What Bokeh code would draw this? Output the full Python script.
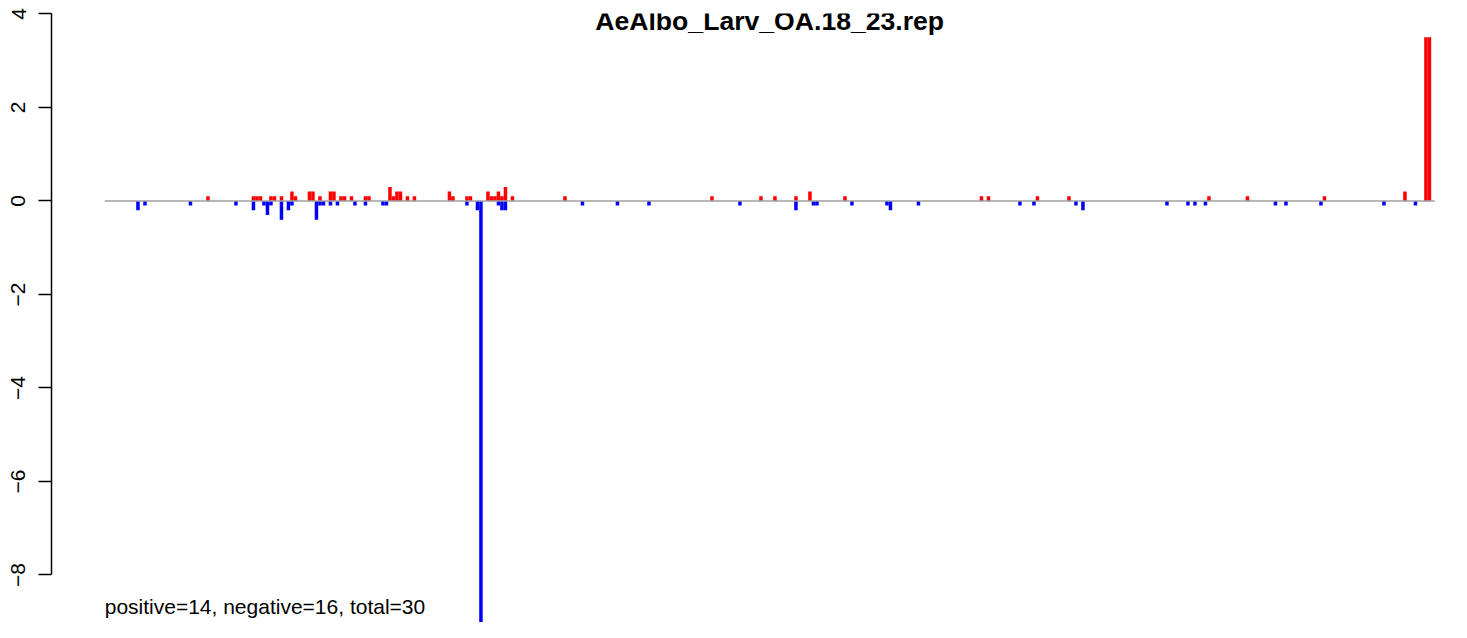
from bokeh.plotting import figure
from bokeh.models import Range1d, Label, FixedTicker
from bokeh.embed import file_html
from bokeh.resources import INLINE

# ---------------- data ----------------
title_text = "AeAlbo_Larv_OA.18_23.rep"
summary_text = "positive=14, negative=16, total=30"
n_slots = 380

pos_idx = [29, 42, 43, 44, 47, 48, 50, 53, 54, 58, 59, 61, 64, 65, 67, 68, 70, 74, 75,
           81, 82, 83, 84, 86, 88, 98, 99, 103, 104, 109, 110, 111, 112, 113, 114, 116,
           131, 173, 187, 191, 197, 201, 211, 250, 252, 266, 275, 315, 326, 348, 371,
           377, 378]
pos_val = [0.1, 0.1, 0.1, 0.1, 0.1, 0.1, 0.1,
           0.2, 0.1, 0.2, 0.2, 0.1, 0.2, 0.2, 0.1, 0.1, 0.1, 0.1, 0.1, 0.3, 0.1, 0.2,
           0.2, 0.1, 0.1, 0.2, 0.1, 0.1, 0.1, 0.2, 0.1, 0.1, 0.2, 0.1, 0.3, 0.1, 0.1,
           0.1, 0.1, 0.1, 0.1, 0.2,
           0.1,
           0.1, 0.1, 0.1, 0.1, 0.1, 0.1, 0.1,
           0.2, 3.5, 3.5]

neg_idx = [9, 11, 24, 37, 42, 45, 46, 47, 50, 52, 53, 60, 61, 62, 64, 66, 71, 74, 79, 80,
           103, 106, 107, 112, 113, 114, 136, 146, 155, 181, 197, 202, 203, 213, 223,
           224, 232, 261, 265, 277, 279, 303, 309, 311, 314, 334, 337, 347, 365, 374]
neg_val = [-0.2, -0.1, -0.1, -0.1, -0.2, -0.1, -0.3, -0.1, -0.4, -0.2,
           -0.1, -0.4, -0.1, -0.1, -0.1, -0.1, -0.1, -0.1, -0.1, -0.1,
           -0.1, -0.2, -9.24, -0.1, -0.2, -0.2, -0.1, -0.1, -0.1, -0.1,
           -0.2, -0.1, -0.1, -0.1, -0.1, -0.2, -0.1, -0.1, -0.1, -0.1,
           -0.2, -0.1, -0.1, -0.1, -0.1, -0.1, -0.1, -0.1, -0.1, -0.1]

y_ticks = [-8, -6, -4, -2, 0, 2, 4]

# ---------------- layout ----------------
W, H = 1451, 622
border_left = 51
border_top = 13
px_per_slot = 3.5
px_per_unit = 46.75

x_start = -0.04 * n_slots
x_end = x_start + (W - border_left) / px_per_slot
y_end = max(pos_val) + 0.04 * (max(pos_val) - min(neg_val))
y_start = y_end - (H - border_top) / px_per_unit

FONT = "Liberation Sans"

p = figure(width=W, height=H, output_backend="svg", toolbar_location=None,
           x_range=Range1d(x_start, x_end), y_range=Range1d(y_start, y_end),
           x_axis_location=None, min_border_left=border_left, min_border_right=0,
           min_border_top=border_top, min_border_bottom=0)
p.grid.visible = False
p.outline_line_color = None
p.background_fill_color = "white"
p.border_fill_color = "white"

# bars
p.vbar(x=[i + 0.5 for i in pos_idx], width=1.0, top=pos_val, bottom=0,
       fill_color="#ff0000", line_color=None)
p.vbar(x=[i + 0.5 for i in neg_idx], width=1.0, top=0, bottom=neg_val,
       fill_color="#0000ff", line_color=None)

# zero line over the data extent
p.line(x=[0, n_slots], y=[0, 0], line_color="#a0a0a0", line_width=1.6)

# y axis
ax = p.yaxis[0]
ax.ticker = FixedTicker(ticks=y_ticks)
ax.bounds = (min(y_ticks), max(y_ticks))
ax.major_tick_in = 0
ax.major_tick_out = 13
ax.minor_tick_line_color = None
ax.axis_line_width = 1.5
ax.major_tick_line_width = 1.5
ax.axis_line_color = "black"
ax.major_tick_line_color = "black"
ax.major_label_text_font = FONT
ax.major_label_text_font_size = "21px"
ax.major_label_text_color = "black"
ax.major_label_orientation = "parallel"
ax.major_label_standoff = 13
ax.major_label_overrides = {t: (("\u2212" + str(abs(t))) if t < 0 else str(t)) for t in y_ticks}

# title
p.add_layout(Label(x=n_slots / 2, y=H - 20, x_units="data", y_units="screen",
                   text=title_text, text_align="center", text_baseline="alphabetic",
                   text_font=FONT, text_font_style="bold", text_font_size="26.6px",
                   text_color="black"))

# summary text
p.add_layout(Label(x=0, y=16, x_units="data", y_units="screen",
                   text=summary_text, text_align="left", text_baseline="alphabetic",
                   text_font=FONT, text_font_size="21px", text_color="black"))

open("out.html", "w").write(file_html(p, INLINE))
